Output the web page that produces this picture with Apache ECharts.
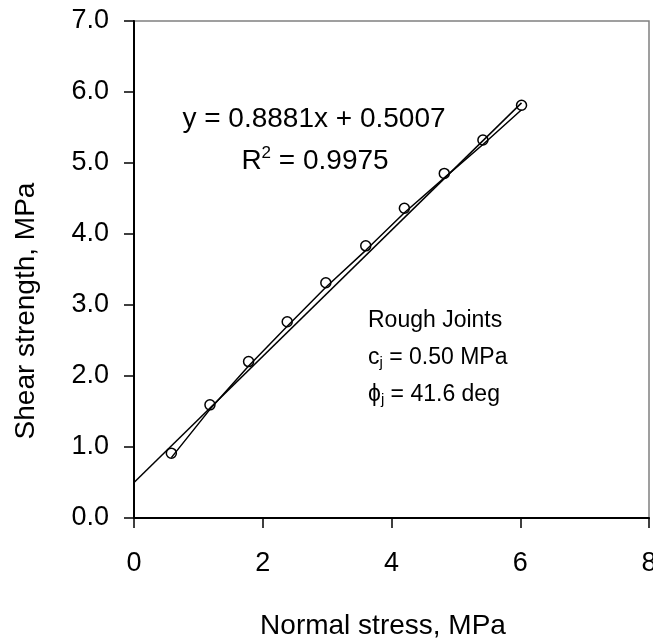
<!DOCTYPE html>
<html>
<head>
<meta charset="utf-8">
<script src="https://cdn.jsdelivr.net/npm/echarts@6/dist/echarts.min.js"></script>
<style>
  html, body { margin: 0; padding: 0; background: #fff; }
  #main { width: 653px; height: 639px; }
</style>
</head>
<body>
<div id="main"></div>
<script>
// measured points: normal stress (MPa) vs shear strength (MPa)
var normalStress = [0.58, 1.18, 1.78, 2.38, 2.98, 3.6, 4.2, 4.82, 5.42, 6.02]
var shearStrength = [0.85, 1.53, 2.14, 2.70, 3.25, 3.77, 4.30, 4.79, 5.26, 5.75]

// linear trendline as printed on the chart
var slope = 0.8881
var intercept = 0.5007
var trendX = [0, 6.02]

var xTicks = [0, 2, 4, 6, 8]
var yTicks = [0, 1, 2, 3, 4, 5, 6, 7]

var FONT = 'Liberation Sans, Arial, sans-serif'

var pointData = normalStress.map(function(x, i) {
  return [x, shearStrength[i]]
})
var trendData = trendX.map(function(x) {
  return [x, slope * x + intercept]
})

var myChart = echarts.init(document.getElementById('main'))

var option = {
  animation: false,
  backgroundColor: '#fff',
  textStyle: { fontFamily: FONT, color: '#000' },
  grid: {
    left: 134,
    right: 4,
    top: 21,
    bottom: 121,
    outerBoundsMode: 'none',
    containLabel: false,
    show: true,
    borderColor: '#808080',
    borderWidth: 1.5
  },
  xAxis: {
    type: 'value',
    min: xTicks[0],
    max: xTicks[xTicks.length - 1],
    interval: 2,
    splitLine: { show: false },
    axisLine: { onZero: false, lineStyle: { color: '#000', width: 2 } },
    axisTick: { inside: false, length: 10, lineStyle: { color: '#000', width: 1.5 } },
    axisLabel: {
      margin: 32,
      fontSize: 27,
      fontFamily: FONT,
      color: '#000',
      showMaxLabel: true
    }
  },
  yAxis: {
    type: 'value',
    min: yTicks[0],
    max: yTicks[yTicks.length - 1],
    interval: 1,
    splitLine: { show: false },
    axisLine: { onZero: false, lineStyle: { color: '#000', width: 2 } },
    axisTick: { inside: false, length: 10, lineStyle: { color: '#000', width: 1.5 } },
    axisLabel: {
      margin: 25,
      fontSize: 27,
      fontFamily: FONT,
      color: '#000',
      formatter: function(v) { return v.toFixed(1) }
    }
  },
  series: [
    {
      name: 'trend',
      type: 'line',
      data: trendData,
      symbol: 'none',
      lineStyle: { color: '#000', width: 1.5 },
      z: 2
    },
    {
      name: 'data',
      type: 'line',
      data: pointData,
      symbol: 'circle',
      symbolSize: 10,
      // markers sit a little above the line vertices, as in the original plot
      symbolOffset: [0, -4.5],
      showSymbol: true,
      itemStyle: { color: 'rgba(255,255,255,0)', borderColor: '#000', borderWidth: 1.5 },
      lineStyle: { color: '#000', width: 1.5 },
      z: 3
    }
  ],
  graphic: [
    {
      type: 'text',
      x: 314, y: 119,
      style: {
        text: 'y = 0.8881x + 0.5007',
        font: '28px ' + FONT,
        fill: '#000',
        textAlign: 'center',
        textVerticalAlign: 'middle'
      }
    },
    {
      type: 'text',
      x: 315, y: 161,
      style: {
        text: '{n|R}{s|2}{n| = 0.9975}',
        fill: '#000',
        align: 'center',
        verticalAlign: 'middle',
        rich: {
          n: { fontSize: 28, fontFamily: FONT, color: '#000' },
          s: { fontSize: 17, fontFamily: FONT, color: '#000', padding: [0, 0, 15, 0] }
        }
      }
    },
    {
      type: 'text',
      x: 368, y: 321,
      style: {
        text: 'Rough Joints',
        font: '23px ' + FONT,
        fill: '#000',
        textAlign: 'left',
        textVerticalAlign: 'middle'
      }
    },
    {
      type: 'text',
      x: 368, y: 358,
      style: {
        text: '{n|c}{s|j}{n| = 0.50 MPa}',
        align: 'left',
        verticalAlign: 'middle',
        rich: {
          n: { fontSize: 23, fontFamily: FONT, color: '#000' },
          s: { fontSize: 15, fontFamily: FONT, color: '#000', padding: [10, 0, 0, 0] }
        }
      }
    },
    {
      type: 'text',
      x: 368, y: 395,
      style: {
        text: '{n|ϕ}{s|j}{n| = 41.6 deg}',
        align: 'left',
        verticalAlign: 'middle',
        rich: {
          n: { fontSize: 23, fontFamily: FONT, color: '#000' },
          s: { fontSize: 15, fontFamily: FONT, color: '#000', padding: [10, 0, 0, 0] }
        }
      }
    },
    {
      type: 'text',
      x: 383, y: 626,
      style: {
        text: 'Normal stress, MPa',
        font: '28px ' + FONT,
        fill: '#000',
        textAlign: 'center',
        textVerticalAlign: 'middle'
      }
    },
    {
      type: 'text',
      x: 26, y: 311,
      rotation: Math.PI / 2,
      style: {
        text: 'Shear strength, MPa',
        font: '28px ' + FONT,
        fill: '#000',
        textAlign: 'center',
        textVerticalAlign: 'middle'
      }
    }
  ]
}

option && myChart.setOption(option)
</script>
</body>
</html>
